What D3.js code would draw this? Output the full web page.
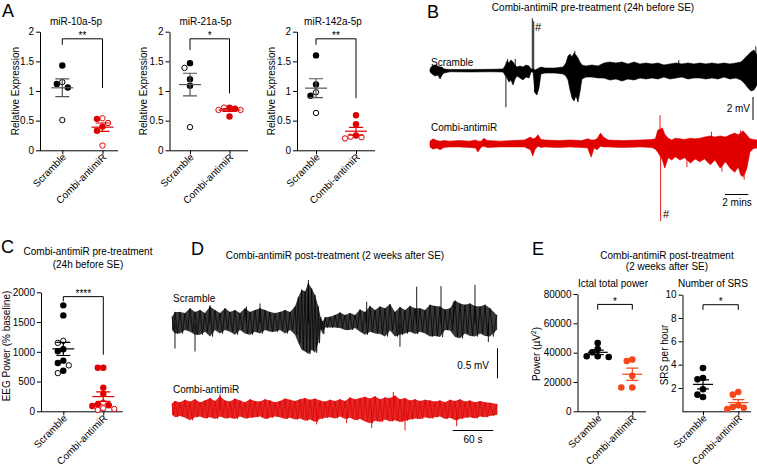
<!DOCTYPE html>
<html>
<head>
<meta charset="utf-8">
<script src="https://cdn.jsdelivr.net/npm/d3@7"></script>
<style>
  body { margin: 0; background: #fff; }
  text { font-family: "Liberation Sans", Arial, sans-serif; }
</style>
</head>
<body>
<svg id="fig" width="757" height="468"></svg>
<script>
// ---- data ----
var GROUPS = ["Scramble", "Combi-antimiR"];

// A: relative expression (open = hollow symbol)
var mir10Scr = [1.43, 1.12, 1.15, 1.06, 0.51];
var mir10ScrOpen = [0, 0, 1, 0, 1];
var mir10Anti = [0.46, 0.54, 0.53, 0.40, 0.33, 0.08];
var mir10AntiOpen = [1, 1, 0, 0, 0, 1];
var mir21Scr = [1.47, 1.39, 1.20, 1.09, 0.39];
var mir21ScrOpen = [0, 1, 0, 0, 1];
var mir21Anti = [0.72, 0.68, 0.72, 0.68, 0.70, 0.57];
var mir21AntiOpen = [0, 1, 1, 1, 0, 0];
var mir142Scr = [1.60, 1.11, 0.98, 0.92, 0.63];
var mir142ScrOpen = [0, 0, 1, 0, 1];
var mir142Anti = [0.59, 0.44, 0.25, 0.20, 0.22, 0.23];
var mir142AntiOpen = [0, 0, 0, 1, 1, 1];
var relTicks = [0, 0.5, 1, 1.5, 2];

// C: EEG power (% baseline)
var eegScr = [1781, 1612, 1150, 1184, 1009, 1043, 851, 772, 812, 642, 682];
var eegScrOpen = [0, 0, 1, 1, 0, 0, 0, 1, 0, 1, 0];
var eegAnti = [733, 733, 395, 293, 147, 101, 90, 118, 39, 51, 23];
var eegAntiOpen = [0, 0, 0, 0, 1, 0, 0, 0, 1, 1, 1];
var eegTicks = [0, 500, 1000, 1500, 2000];

// E: ictal power and SRS rate
var powerScr = [46550, 40230, 42490, 37510, 37510, 37060];
var powerAnti = [34350, 35250, 24180, 16270, 16270];
var powerTicks = [0, 20000, 40000, 60000, 80000];
var srsScr = [3.71, 2.86, 2.74, 1.89, 1.23, 1.43];
var srsAnti = [1.43, 1.66, 0.20, 0.31, 0.37, 0.51];
var srsTicks = [2, 4, 6, 8, 10];

// significance brackets: [label, top, left end, right end]
var sig10 = ["**", 1.88, 1.78, 1.05];
var sig21 = ["*", 1.88, 1.69, 0.96];
var sig142 = ["**", 1.88, 1.78, 0.88];
var sigEeg = ["****", 1927, 1849, 950];
var sigPower = ["*", 72900, 69300, 69300];
var sigSrs = ["*", 9.14, 8.7, 8.7];

// B traces: [minutes, upper mV, lower mV] envelopes, spikes [minutes, mV]
var bScrEnv = [[0,0.13,-0.13],[0.17,0.39,-0.3],[0.43,0.48,-0.48],[0.68,0.39,-0.39],[0.86,0.3,-0.74],[1.03,0.3,-0.39],[1.2,0.13,-0.22],[1.71,0.09,-0.11],[3.42,0.09,-0.13],[5.14,0.1,-0.11],[6.25,0.13,-0.13],[6.42,0.39,-0.39],[6.59,0.83,-0.65],[6.76,0.65,-1.0],[6.93,0.91,-0.83],[7.11,0.74,-1.26],[7.28,0.48,-0.74],[7.45,0.3,-0.48],[7.71,0.39,-0.65],[7.96,0.3,-0.83],[8.22,0.48,-0.57],[8.48,0.39,-0.65],[8.65,0.13,-0.13],[8.82,0.13,-0.13],[9.0,0.04,-1.96],[9.16,0.13,-2.13],[9.33,0.22,-1.52],[9.5,0.3,-0.3],[9.85,0.22,-0.22],[10.7,0.22,-0.22],[11.39,0.3,-0.3],[11.64,0.65,-0.48],[11.82,1.26,-0.83],[11.99,1.43,-1.7],[12.16,1.17,-2.39],[12.33,1.52,-2.65],[12.5,1.35,-2.22],[12.67,1.09,-2.74],[12.84,0.74,-1.87],[13.01,0.48,-0.74],[13.36,0.39,-0.57],[13.87,0.48,-0.57],[14.38,0.39,-0.65],[14.9,0.65,-0.65],[15.41,0.74,-0.83],[15.92,0.65,-0.74],[16.44,0.74,-0.91],[16.95,0.57,-0.74],[17.47,0.74,-0.83],[17.98,0.57,-0.65],[18.49,0.65,-0.74],[19.01,0.57,-0.65],[19.52,0.65,-0.74],[20.03,0.48,-0.57],[20.55,0.57,-0.74],[21.06,0.65,-0.65],[21.58,0.57,-0.57],[22.09,0.65,-0.74],[22.6,0.57,-0.65],[23.12,0.65,-0.65],[23.63,0.57,-0.74],[24.14,0.65,-0.65],[24.66,0.57,-0.74],[25.17,0.65,-0.57],[25.68,0.57,-0.74],[26.2,0.65,-0.65],[26.63,0.74,-0.83],[26.97,1.09,-1.17],[27.23,1.35,-1.52],[27.48,1.61,-1.78],[27.74,1.78,-1.7],[28.0,1.35,-1.26]];
var bScrSpikes = [[6.5,-3.2],[6.65,1.0],[8.76,4.54],[8.88,4.3],[8.95,-1.9],[7.3,1.0],[12.4,1.7],[21.3,0.9],[27.9,2.1]];
var bAntiEnv = [[0,0.25,-0.25],[0.26,0.45,-0.45],[0.6,0.3,-0.35],[0.86,0.25,-0.5],[1.2,0.3,-0.3],[1.7,0.25,-0.25],[2.5,0.3,-0.25],[3.4,0.25,-0.3],[3.9,0.35,-0.35],[4.1,0.25,-0.7],[4.4,0.25,-0.25],[4.6,0.5,-0.2],[4.9,0.3,-0.3],[6.0,0.25,-0.25],[7.0,0.3,-0.25],[8.1,0.35,-0.25],[8.6,0.6,-0.5],[8.8,0.45,-1.05],[9.0,0.5,-0.45],[9.25,0.8,-0.2],[9.5,0.4,-0.3],[9.85,0.35,-0.25],[11,0.3,-0.3],[12.0,0.35,-0.25],[13.0,0.3,-0.3],[13.5,0.45,-0.35],[13.8,0.35,-1.15],[14.05,0.35,-0.35],[14.3,0.45,-0.5],[14.6,0.95,-0.2],[14.85,0.6,-0.25],[15.25,0.35,-0.25],[16.5,0.3,-0.3],[18.0,0.35,-0.25],[19.0,0.4,-0.3],[19.3,0.45,-0.45],[19.5,1.2,-0.7],[19.9,1.4,-1.4],[20.1,0.85,-2.1],[20.4,0.5,-1.2],[20.7,0.35,-1.4],[21.0,0.5,-1.1],[21.4,0.45,-1.4],[21.8,0.4,-1.2],[22.3,0.5,-1.65],[22.7,0.45,-1.3],[23.1,0.5,-1.55],[23.5,0.6,-1.3],[24.0,0.7,-1.8],[24.4,0.6,-1.4],[24.85,0.7,-2.1],[25.3,0.6,-1.55],[25.7,0.8,-2.1],[26.1,0.95,-2.45],[26.4,0.8,-2.0],[26.6,0.95,-2.7],[26.8,1.15,-2.85],[27.1,0.8,-2.25],[27.4,0.45,-0.7],[27.7,0.4,-0.4],[28,0.35,-0.35]];
var bAntiSpikes = [[19.7,2.5],[19.75,-6.7],[24.1,1.07],[26.6,1.2],[22.0,-2.0],[25.0,-2.4],[26.9,-3.1]];

// D traces: [seconds, upper mV, lower mV], spikes [seconds, mV]
var dScrEnv = [[0,0.11,-0.11],[4.4,0.19,-0.17],[11.8,0.19,-0.17],[19.2,0.17,-0.11],[26.6,0.25,-0.14],[34,0.19,-0.19],[41.4,0.22,-0.19],[48.7,0.17,-0.14],[56.1,0.28,-0.22],[63.5,0.22,-0.11],[70.9,0.17,-0.17],[78.3,0.25,-0.11],[85.7,0.19,-0.14],[93,0.22,-0.19],[100.4,0.17,-0.11],[107.8,0.25,-0.17],[115.2,0.19,-0.19],[122.6,0.22,-0.14],[130,0.25,-0.17],[137.4,0.22,-0.11],[144.7,0.19,-0.14],[152.1,0.17,-0.14],[159.5,0.19,-0.11],[166.9,0.22,-0.17],[174.3,0.19,-0.11],[181.7,0.28,-0.19],[186.6,0.44,-0.33],[191.5,0.56,-0.44],[196.4,0.53,-0.47],[201.4,0.67,-0.51],[206.3,0.58,-0.44],[211.2,0.47,-0.49],[216.1,0.28,-0.33],[219.6,0.1,-0.1],[222.5,0.03,-0.18],[226,0.1,-0.07],[233.4,0.11,-0.07],[240.7,0.14,-0.07],[248.1,0.18,-0.08],[255.5,0.14,-0.11],[262.9,0.17,-0.11],[270.3,0.14,-0.08],[277.7,0.23,-0.14],[285,0.19,-0.19],[292.4,0.29,-0.14],[299.8,0.22,-0.17],[307.2,0.28,-0.18],[314.6,0.25,-0.22],[322,0.32,-0.12],[329.3,0.19,-0.22],[336.7,0.27,-0.19],[344.1,0.22,-0.17],[351.5,0.29,-0.14],[358.9,0.25,-0.18],[366.3,0.25,-0.14],[373.7,0.22,-0.17],[381,0.31,-0.22],[388.4,0.29,-0.21],[395.8,0.28,-0.23],[403.2,0.23,-0.11],[410.6,0.25,-0.12],[418,0.38,-0.23],[425.3,0.33,-0.25],[432.7,0.31,-0.17],[440.1,0.33,-0.21],[447.5,0.29,-0.22],[454.9,0.28,-0.17],[462.3,0.31,-0.21],[469.7,0.25,-0.22],[479.5,0.14,-0.11]];
var dScrSpikes = [[4.4,-0.42],[34,-0.47],[56,0.3],[110,0.28],[130,0.33],[201.4,0.72],[287.5,0.36],[336.7,-0.39],[361.4,0.61],[397.3,0.62],[415.5,0.36],[447.5,0.64],[467.2,-0.31]];
var dAntiEnv = [[0,0.11,-0.08],[4.4,0.15,-0.12],[11.8,0.13,-0.1],[19.2,0.17,-0.13],[26.6,0.14,-0.17],[34,0.18,-0.12],[41.4,0.13,-0.11],[48.7,0.16,-0.14],[56.1,0.2,-0.12],[63.5,0.15,-0.15],[70.9,0.23,-0.11],[78.3,0.16,-0.14],[85.7,0.14,-0.13],[93,0.19,-0.15],[100.4,0.16,-0.11],[107.8,0.13,-0.14],[115.2,0.18,-0.13],[122.6,0.15,-0.12],[130,0.14,-0.11],[137.4,0.18,-0.15],[144.7,0.16,-0.13],[152.1,0.13,-0.11],[159.5,0.15,-0.12],[166.9,0.19,-0.15],[174.3,0.17,-0.13],[181.7,0.15,-0.16],[189.1,0.18,-0.14],[196.4,0.2,-0.18],[203.8,0.17,-0.16],[211.2,0.19,-0.2],[218.6,0.16,-0.15],[226,0.14,-0.13],[233.4,0.17,-0.12],[240.7,0.15,-0.14],[248.1,0.18,-0.11],[255.5,0.15,-0.15],[262.9,0.21,-0.13],[270.3,0.18,-0.17],[277.7,0.2,-0.15],[285,0.22,-0.19],[292.4,0.19,-0.22],[299.8,0.23,-0.18],[307.2,0.18,-0.2],[314.6,0.21,-0.16],[322,0.2,-0.19],[329.3,0.24,-0.17],[336.7,0.18,-0.2],[344.1,0.2,-0.18],[351.5,0.16,-0.16],[358.9,0.18,-0.14],[366.3,0.15,-0.15],[373.7,0.17,-0.12],[381,0.16,-0.14],[388.4,0.14,-0.12],[395.8,0.16,-0.11],[403.2,0.13,-0.15],[410.6,0.17,-0.13],[418,0.15,-0.17],[425.3,0.18,-0.15],[432.7,0.14,-0.13],[440.1,0.16,-0.12],[447.5,0.13,-0.14],[454.9,0.15,-0.11],[462.3,0.13,-0.12],[469.7,0.12,-0.1],[480,0.1,-0.08]];
var dAntiSpikes = [[70.9,0.27],[213.7,-0.24],[258,-0.22],[294.9,-0.3],[326.9,0.3],[344.1,-0.34],[420.4,-0.27]];

var RED = "#e00000";
var ORANGE = "#f7451c";

var svg = d3.select("#fig");

function txt(x, y, s, size, anchor) {
  return svg.append("text").attr("x", x).attr("y", y)
    .attr("font-size", size || 10).attr("text-anchor", anchor || "start").text(s);
}

// greedy beeswarm so dots do not overlap
function swarm(vals, y, cx, r) {
  var order = d3.range(vals.length).sort(function (a, b) { return vals[b] - vals[a]; });
  var placed = [], xs = [];
  var step = 5.5;
  order.forEach(function (i) {
    var py = y(vals[i]);
    for (var k = 0; k < 30; k++) {
      var off = k === 0 ? 0 : (k % 2 ? -1 : 1) * Math.ceil(k / 2) * step;
      var px = cx + off;
      var ok = placed.every(function (p) { return Math.hypot(p[0] - px, p[1] - py) >= 2 * r - 1; });
      if (ok) { xs[i] = px; placed.push([px, py]); break; }
    }
  });
  return xs;
}

function dotPlot(o) {
  var g = svg.append("g");
  var y = d3.scaleLinear().domain(o.domain).range([o.bottom, o.top]);
  var x = d3.scalePoint().domain(GROUPS).range(o.cats);

  g.append("g").attr("transform", "translate(" + o.left + ",0)")
    .call(d3.axisLeft(y).tickValues(o.ticks).tickSize(4).tickPadding(2).tickSizeOuter(0)
      .tickFormat(function (d) { return d; }));

  var xa = g.append("g").attr("transform", "translate(0," + o.bottom + ")")
    .call(d3.axisBottom(x).tickSize(4).tickSizeOuter(0));
  xa.select(".domain").attr("d", "M" + o.left + ",0.5H" + o.right);
  xa.selectAll(".tick text").attr("x", 0).attr("y", 0).attr("dy", 0)
    .attr("transform", "translate(4,7.5) rotate(-45)").attr("text-anchor", "end");

  o.series.forEach(function (s, gi) {
    var cx = x(GROUPS[gi]);
    var xs = swarm(s.vals, y, cx, o.r);
    var open = s.open || [];
    g.append("g").selectAll("circle").data(s.vals).join("circle")
      .attr("cx", function (d, i) { return xs[i]; })
      .attr("cy", function (d) { return y(d); })
      .attr("r", function (d, i) { return open[i] ? o.r - 0.5 : o.r; })
      .attr("fill", function (d, i) { return open[i] ? "#fff" : s.color; })
      .attr("stroke", s.color)
      .attr("stroke-width", function (d, i) { return open[i] ? 1 : 0; });

    var m = d3.mean(s.vals);
    var se = d3.deviation(s.vals) / Math.sqrt(s.vals.length);
    var lc = s.lineColor || s.color;
    g.append("line").attr("x1", cx - o.mw).attr("x2", cx + o.mw)
      .attr("y1", y(m)).attr("y2", y(m)).attr("stroke", lc).attr("stroke-width", 1.2);
    g.append("path")
      .attr("d", "M" + (cx - o.sw) + "," + y(m + se) + "H" + (cx + o.sw) +
        "M" + cx + "," + y(m + se) + "V" + y(m - se) +
        "M" + (cx - o.sw) + "," + y(m - se) + "H" + (cx + o.sw))
      .attr("stroke", lc).attr("stroke-width", 1.2).attr("fill", "none");
  });

  var b = o.bracket;
  var x1 = x(GROUPS[0]), x2 = x(GROUPS[1]);
  g.append("path")
    .attr("d", "M" + x1 + "," + y(b[2]) + "V" + y(b[1]) + "H" + x2 + "V" + y(b[3]))
    .attr("fill", "none").attr("stroke", "#000").attr("stroke-width", 1);
  g.append("text").attr("x", (x1 + x2) / 2).attr("y", y(b[1]) + 0.5)
    .attr("text-anchor", "middle").attr("font-size", 10).text(b[0]);

  if (o.ylabel) {
    g.append("text")
      .attr("transform", "translate(" + o.ylabX + "," + o.ylabY + ") rotate(-90)")
      .attr("text-anchor", "middle").attr("font-size", 10).text(o.ylabel);
  }
  return g;
}

// mode "fill": dense band; mode "zig": noisy stroke between upper and lower values
function trace(o) {
  var g = svg.append("g");
  var x = d3.scaleLinear().domain(o.tDomain).range(o.xRange);
  var y = d3.scaleLinear().domain([-1, 1]).range([o.base + o.ppu, o.base - o.ppu]);
  var area = d3.area()
    .x(function (d) { return x(d[0]); })
    .y0(function (d) { return y(d[2]); })
    .y1(function (d) { return y(d[1]); });
  if (o.mode === "zig") {
    g.append("path").datum(o.env).attr("d", area)
      .attr("fill", o.color).attr("fill-opacity", o.core).attr("stroke", "none");
    var pts = [];
    o.env.forEach(function (d, i) {
      var xn = i < o.env.length - 1 ? x(o.env[i + 1][0]) : x(d[0]);
      pts.push([x(d[0]), y(d[1])]);
      pts.push([(x(d[0]) + xn) / 2, y(d[2])]);
    });
    g.append("path").attr("d", d3.line()(pts))
      .attr("fill", "none").attr("stroke", o.color).attr("stroke-width", 0.7);
  } else {
    g.append("path").datum(o.env).attr("d", area)
      .attr("fill", o.color).attr("stroke", o.color).attr("stroke-width", 0.6);
  }
  g.selectAll("line").data(o.spikes).join("line")
    .attr("x1", function (d) { return x(d[0]); })
    .attr("x2", function (d) { return x(d[0]); })
    .attr("y1", y(0))
    .attr("y2", function (d) { return y(d[1]); })
    .attr("stroke", o.color).attr("stroke-width", 0.9);
  return { x: x, y: y };
}

// ---- Panel A ----
txt(2, 17, "A", 18);
var aPlots = [
  { left: 40, right: 118, cats: [62.3, 102.5], title: "miR-10a-5p", scr: mir10Scr, scrO: mir10ScrOpen, anti: mir10Anti, antiO: mir10AntiOpen, sig: sig10, ylabX: 18.5 },
  { left: 169.5, right: 248, cats: [190, 229.5], title: "miR-21a-5p", scr: mir21Scr, scrO: mir21ScrOpen, anti: mir21Anti, antiO: mir21AntiOpen, sig: sig21, ylabX: 147 },
  { left: 297, right: 375, cats: [316, 356], title: "miR-142a-5p", scr: mir142Scr, scrO: mir142ScrOpen, anti: mir142Anti, antiO: mir142AntiOpen, sig: sig142, ylabX: 275 }
];
aPlots.forEach(function (p) {
  dotPlot({
    left: p.left, right: p.right, cats: p.cats, top: 31.7, bottom: 150.3,
    domain: [0, 2], ticks: relTicks, r: 3.2, mw: 11, sw: 7,
    series: [
      { vals: p.scr, open: p.scrO, color: "#000", lineColor: "#555" },
      { vals: p.anti, open: p.antiO, color: RED }
    ],
    bracket: p.sig, ylabel: "Relative Expression", ylabX: p.ylabX, ylabY: 91
  });
  txt(p.left + 36, 24.5, p.title, 10, "middle");
});

// ---- Panel B ----
txt(427, 18, "B", 18);
txt(593, 11, "Combi-antimiR pre-treatment (24h before SE)", 10, "middle");
txt(431, 66, "Scramble", 10);
txt(431, 130.5, "Combi-antimiR", 10);
var bScr = trace({ env: bScrEnv, spikes: bScrSpikes, tDomain: [0, 28], xRange: [430, 757], base: 70.5, ppu: 11.5, color: "#000" });
var bAnti = trace({ env: bAntiEnv, spikes: bAntiSpikes, tDomain: [0, 28], xRange: [430, 757], base: 144, ppu: 11.5, color: RED });
txt(535, 30.5, "#", 11);
txt(663, 218, "#", 11);
// scale bars
var mv2 = bScr.y(0) - bScr.y(2);
svg.append("line").attr("x1", 753).attr("x2", 753).attr("y1", 97).attr("y2", 97 + mv2).attr("stroke", "#000");
txt(750, 112, "2 mV", 10, "end");
var min2 = bAnti.x(2) - bAnti.x(0);
svg.append("line").attr("x1", 725).attr("x2", 725 + min2).attr("y1", 194.5).attr("y2", 194.5).attr("stroke", "#000");
txt(737, 205.5, "2 mins", 10, "middle");

// ---- Panel C ----
txt(1, 253, "C", 18);
txt(88, 255, "Combi-antimiR pre-treatment", 10, "middle");
txt(88, 267.5, "(24h before SE)", 10, "middle");
dotPlot({
  left: 41, right: 122.7, cats: [63.3, 103.3], top: 292.3, bottom: 411.3,
  domain: [0, 2000], ticks: eegTicks, r: 3.2, mw: 11, sw: 7,
  series: [
    { vals: eegScr, open: eegScrOpen, color: "#000" },
    { vals: eegAnti, open: eegAntiOpen, color: RED }
  ],
  bracket: sigEeg, ylabel: "EEG Power (% baseline)", ylabX: 9.5, ylabY: 346
});

// ---- Panel D ----
txt(191, 255, "D", 18);
txt(335, 258.5, "Combi-antimiR post-treatment (2 weeks after SE)", 10, "middle");
txt(173, 302, "Scramble", 10);
txt(173, 393, "Combi-antimiR", 10);
var dScr = trace({ env: dScrEnv, spikes: dScrSpikes, tDomain: [0, 480], xRange: [172, 497], base: 323.3, ppu: 60, color: "#000", mode: "zig", core: 0.78 });
var dAnti = trace({ env: dAntiEnv, spikes: dAntiSpikes, tDomain: [0, 480], xRange: [172, 497], base: 410, ppu: 60, color: RED, mode: "zig", core: 0.85 });
var mv05 = dScr.y(0) - dScr.y(0.5);
svg.append("line").attr("x1", 497.5).attr("x2", 497.5).attr("y1", 348.3).attr("y2", 348.3 + mv05).attr("stroke", "#000");
txt(489, 369, "0.5 mV", 10, "end");
var s60 = dAnti.x(60) - dAnti.x(0);
svg.append("line").attr("x1", 452.7).attr("x2", 452.7 + s60).attr("y1", 430.5).attr("y2", 430.5).attr("stroke", "#000");
txt(473, 443, "60 s", 10, "middle");

// ---- Panel E ----
txt(532, 255, "E", 18);
txt(667, 258.5, "Combi-antimiR post-treatment", 10, "middle");
txt(667, 269.5, "(2 weeks after SE)", 10, "middle");
txt(613, 287, "Ictal total power", 10, "middle");
txt(713, 287, "Number of SRS", 10, "middle");
dotPlot({
  left: 577.5, right: 646, cats: [597.7, 632.3], top: 294, bottom: 411.3,
  domain: [0, 80000], ticks: powerTicks, r: 3.3, mw: 10, sw: 6,
  series: [
    { vals: powerScr, color: "#000" },
    { vals: powerAnti, color: ORANGE }
  ],
  bracket: sigPower, ylabel: "", ylabX: 540, ylabY: 354
});
var pl = svg.append("text").attr("transform", "translate(540,354) rotate(-90)")
  .attr("text-anchor", "middle").attr("font-size", 10);
pl.append("tspan").text("Power (µV");
pl.append("tspan").attr("font-size", 7).attr("dy", -4).text("2");
pl.append("tspan").attr("dy", 4).text(")");
dotPlot({
  left: 682.5, right: 751, cats: [703, 738.3], top: 294.7, bottom: 411.3,
  domain: [0, 10], ticks: srsTicks, r: 3.3, mw: 10, sw: 6,
  series: [
    { vals: srsScr, color: "#000" },
    { vals: srsAnti, color: ORANGE }
  ],
  bracket: sigSrs, ylabel: "SRS per hour", ylabX: 667.5, ylabY: 355
});
</script>
</body>
</html>
